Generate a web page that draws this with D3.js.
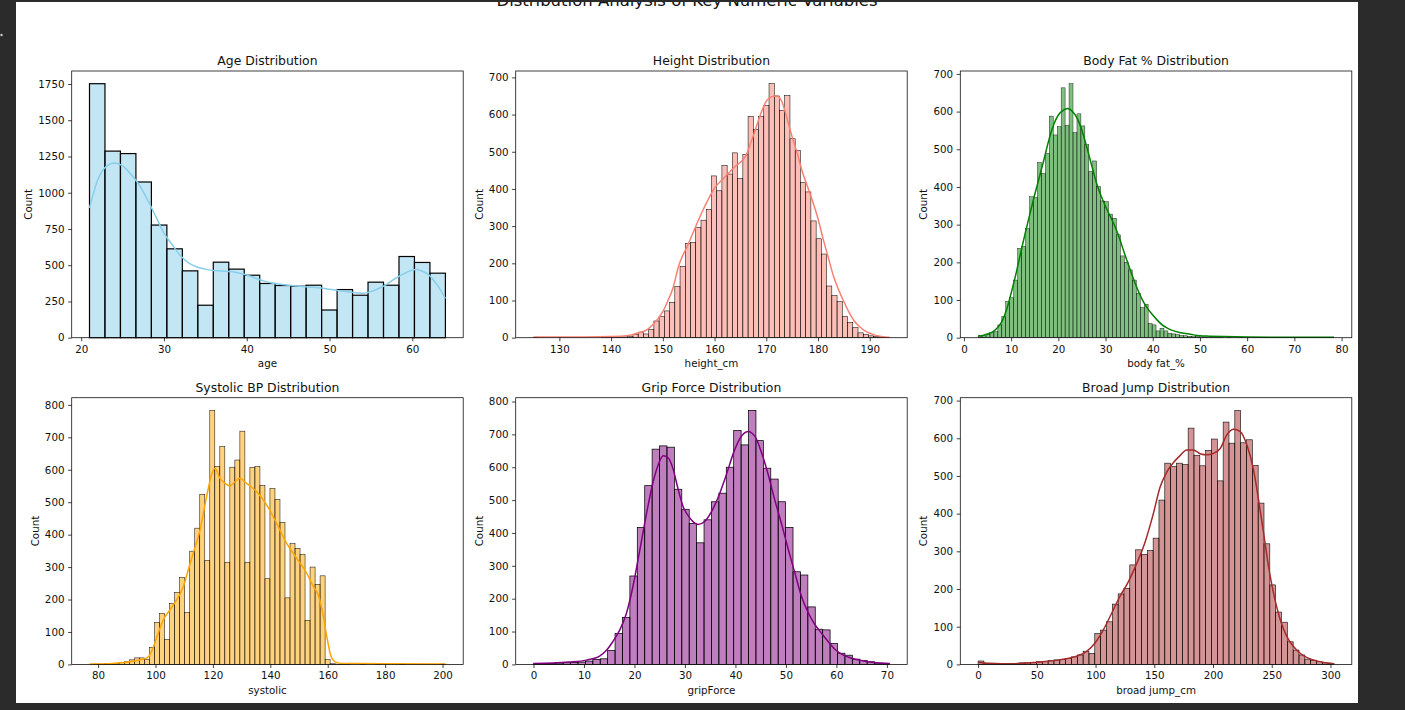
<!DOCTYPE html>
<html>
<head>
<meta charset="utf-8">
<script src="https://cdn.jsdelivr.net/npm/d3@7"></script>
<style>
    html, body { margin: 0; padding: 0; background: #2b2b2b; overflow: hidden; }
    svg { display: block; }
    text { font-family: 'DejaVu Sans', sans-serif; }
</style>
</head>
<body>
<div id="chart"></div>
<script>
// Six seaborn-style histograms (bars + KDE).
// Bin ranges are [min, max]; counts are equal-width bins over that range.

var ageRange = [21, 64];
var ageCounts = [1752, 1287, 1270, 1074, 777, 613, 461, 224, 521, 473, 431, 374,
    360, 355, 362, 191, 332, 293, 383, 362, 560, 519, 445];
var ageKde = [[21, 895], [22, 1090], [23, 1180], [24, 1205], [25, 1185], [26, 1128],
    [27, 1055], [28, 952], [29, 837], [30, 722], [31, 641], [32, 565], [33, 514],
    [34, 488], [35, 473], [36, 463], [37, 460], [38, 456], [39, 447], [40, 433],
    [41, 412], [42, 392], [43, 378], [44, 369], [45, 362], [46, 357], [47, 352],
    [48, 348], [49, 342], [50, 334], [51, 326], [52, 318], [53, 311], [54, 307],
    [55, 318], [56, 341], [57, 372], [58, 410], [59, 442], [60, 466], [60.5, 470],
    [61, 463], [62, 433], [63, 364], [64, 272]];
var ageXTicks = [20, 30, 40, 50, 60];
var ageYTicks = [0, 250, 500, 750, 1000, 1250, 1500, 1750];

var heightRange = [125, 193.8];
var heightCounts = [1, 0, 0, 0, 0, 0, 0, 0, 0, 0, 0, 0, 0, 1,
    1, 1, 1, 2, 3, 8, 15, 10, 22, 45, 57, 72, 95, 138, 192, 253,
    256, 296, 316, 345, 435, 395, 463, 440, 497, 428, 492, 595, 560, 595,
    624, 683, 650, 611, 651, 535, 503, 417, 392, 314, 266, 225, 139, 113,
    97, 57, 41, 27, 13, 9, 5, 3, 2, 1];
var heightKde = [[125, 2], [130, 2], [135, 2], [140, 3], [143, 5], [145, 12], [147, 22],
    [148, 34], [150, 70], [151, 100], [152, 135], [153, 190], [155, 254], [157, 320],
    [158, 350], [160, 402], [162, 432], [164, 461], [166, 488], [167, 524], [168, 564],
    [169, 605], [170, 636], [171, 648], [172, 650], [173, 635], [174, 590], [175, 540],
    [176, 495], [177, 445], [178, 405], [179, 365], [180, 320], [181, 265], [182, 215],
    [183, 165], [184, 128], [185, 97], [186, 68], [187, 45], [188, 30], [189, 19],
    [190, 12], [191, 7], [192, 4], [193, 2], [193.8, 1]];
var heightXTicks = [130, 140, 150, 160, 170, 180, 190];
var heightYTicks = [0, 100, 200, 300, 400, 500, 600, 700];

var bodyFatRange = [3, 78.4];
var bodyFatCounts = [4, 5, 9, 13, 16, 34, 56, 96, 106, 153, 237, 242, 290, 374, 372,
    465, 436, 489, 588, 538, 560, 663, 563, 674, 544, 594, 562, 512, 441, 469,
    401, 363, 361, 328, 317, 273, 217, 200, 180, 153, 118, 80, 89, 38, 34,
    18, 25, 18, 12, 10, 8, 6, 5, 4, 3, 3, 2, 2,
    1, 1, 1, 1, 0, 1, 0, 0, 1,
    0, 0, 0, 0, 0, 0, 0, 0, 0, 0, 0, 0, 0, 0, 0, 0, 0, 0, 0, 0, 0, 0, 1];
var bodyFatKde = [[3, 5], [4, 6], [5, 10], [6, 15], [7, 25], [8, 42], [9, 73], [10, 118],
    [11, 168], [12, 224], [13, 278], [14, 330], [15, 380], [16, 427], [17, 475],
    [18, 525], [19, 565], [20, 591], [21, 603], [22, 608], [23, 600], [24, 582],
    [25, 550], [26, 507], [27, 460], [28, 414], [29, 378], [30, 348], [31, 322],
    [32, 295], [33, 262], [34, 224], [35, 188], [36, 153], [37, 122], [38, 96],
    [39, 76], [40, 60], [41, 46], [42, 34], [43, 26], [44, 20], [46, 13], [48, 9],
    [50, 5], [52, 4], [55, 3], [60, 2], [65, 1.5], [70, 1.5], [78.4, 1.5]];
var bodyFatXTicks = [0, 10, 20, 30, 40, 50, 60, 70, 80];
var bodyFatYTicks = [0, 100, 200, 300, 400, 500, 600, 700];

var systolicRange = [77, 201];
var systolicCounts = [0, 1, 1, 2, 2, 3, 5, 8, 14, 20, 20, 15, 52, 130, 157, 77,
    188, 222, 268, 160, 349, 420, 524, 320, 783, 610, 672, 315, 608, 630, 719,
    315, 607, 610, 552, 264, 542, 509, 438, 205, 372, 358, 339, 136, 300, 247,
    273, 15, 2,
    1, 1, 1, 0, 0, 1, 0, 0, 1, 0, 0, 0, 0, 1, 0, 0, 0, 0, 0, 0, 0, 1];
var systolicKde = [[77, 1], [85, 3], [91, 8], [95, 15], [97, 20], [98.6, 39], [100.3, 80],
    [102.7, 137], [105, 168], [107.3, 198], [109.7, 240], [111.4, 291], [113.1, 342],
    [115.5, 414], [117.8, 517], [119.5, 584], [120.7, 605], [122.4, 574], [124.2, 558],
    [125.9, 550], [127.7, 563], [129.4, 574], [131.7, 558], [135.2, 533], [138.7, 492],
    [142.2, 435], [145.7, 373], [149.2, 327], [152.7, 281], [155, 240], [156.7, 214],
    [158.5, 147], [159.7, 85], [161, 29], [162.6, 8], [165, 3], [180, 2], [201, 1]];
var systolicXTicks = [80, 100, 120, 140, 160, 180, 200];
var systolicYTicks = [0, 100, 200, 300, 400, 500, 600, 700, 800];

var gripRange = [0, 70.5];
var gripCounts = [2, 3, 3, 4, 5, 6, 7, 10, 15, 17, 42, 94, 143, 269, 417, 544,
    655, 665, 661, 533, 472, 429, 370, 440, 495, 521, 600, 712, 668, 773, 681,
    597, 564, 495, 417, 282, 272, 175, 107, 105, 64, 34, 28, 16, 12, 8, 4, 3];
var gripKde = [[0, 3], [3.8, 4], [7.1, 7], [10.5, 13], [13.1, 25], [14.4, 42], [15.7, 69],
    [17.1, 105], [18.4, 155], [19.7, 237], [21, 343], [22.4, 460], [23.7, 556],
    [24.7, 607], [25.7, 635], [26.7, 628], [27.7, 592], [28.6, 536], [29.6, 482],
    [31, 445], [32.6, 426], [33.9, 435], [35.6, 475], [36.9, 521], [38.2, 577],
    [39.6, 643], [40.9, 688], [42.5, 709], [43.9, 693], [45.2, 643], [46.5, 577],
    [47.8, 500], [49.2, 424], [50.5, 348], [51.8, 277], [53.1, 206], [54.5, 155],
    [55.8, 120], [57.1, 94], [58.4, 69], [59.7, 46], [61.4, 28], [62.7, 20],
    [64, 15], [66, 9], [68, 5], [70.5, 3]];
var gripXTicks = [0, 10, 20, 30, 40, 50, 60, 70];
var gripYTicks = [0, 100, 200, 300, 400, 500, 600, 700, 800];

var broadRange = [0, 303];
var broadCounts = [9, 3, 1, 1, 1, 2, 3, 4, 4, 5, 7, 8, 10, 12, 13, 16, 20, 25, 35, 29,
    82, 91, 113, 160, 187, 202, 264, 304, 292, 302, 335, 436, 534, 525, 534, 530,
    627, 555, 527, 568, 598, 487, 643, 587, 674, 588, 596, 528, 428, 320, 211,
    139, 112, 60, 38, 25, 14, 11, 7, 4, 3];
var broadKde = [[0, 6], [10, 3], [20, 2], [30, 2], [41, 4], [55.2, 7], [69.5, 12],
    [83.7, 22], [92.2, 34], [99.4, 56], [106.5, 91], [113.6, 135], [120.7, 180],
    [127.9, 219], [135.1, 268], [142.2, 325], [149.2, 400], [154.9, 470], [160.6, 510],
    [166.2, 535], [171.9, 554], [177.6, 569], [183.3, 569], [189, 559], [194.7, 556],
    [200.4, 560], [206.1, 573], [211.8, 609], [217.5, 624], [223.2, 618], [228.9, 582],
    [234.5, 516], [238.8, 436], [243.1, 348], [247.3, 259], [251.6, 188], [257.3, 118],
    [263, 73], [268.7, 47], [274.4, 29], [280.1, 18], [290, 8], [300, 3], [303, 2]];
var broadXTicks = [0, 50, 100, 150, 200, 250, 300];
var broadYTicks = [0, 100, 200, 300, 400, 500, 600, 700];

var titles = ['Age Distribution', 'Height Distribution', 'Body Fat % Distribution',
    'Systolic BP Distribution', 'Grip Force Distribution', 'Broad Jump Distribution'];
var xLabels = ['age', 'height_cm', 'body fat_%', 'systolic', 'gripForce', 'broad jump_cm'];
var colors = ['#87ceeb', '#fa8072', '#008000', '#ffa500', '#800080', '#a52a2a'];

// Layout (pixels)
var FIG_W = 1405, FIG_H = 710;
var PAGE = { x: 16, y: 2, w: 1342, h: 701 };
var COL_X = [71.7, 515.7, 960.3];
var ROW_Y = [71, 397.7];
var AX_W = 391.5, AX_H = 266.7;
var FONT_TICK = 10.3, FONT_TITLE = 12.4, FONT_SUP = 16.5;
var INK = '#111';

var panels = [
    { range: ageRange, counts: ageCounts, kde: ageKde, xTicks: ageXTicks, yTicks: ageYTicks },
    { range: heightRange, counts: heightCounts, kde: heightKde, xTicks: heightXTicks, yTicks: heightYTicks },
    { range: bodyFatRange, counts: bodyFatCounts, kde: bodyFatKde, xTicks: bodyFatXTicks, yTicks: bodyFatYTicks },
    { range: systolicRange, counts: systolicCounts, kde: systolicKde, xTicks: systolicXTicks, yTicks: systolicYTicks },
    { range: gripRange, counts: gripCounts, kde: gripKde, xTicks: gripXTicks, yTicks: gripYTicks },
    { range: broadRange, counts: broadCounts, kde: broadKde, xTicks: broadXTicks, yTicks: broadYTicks }
];

function styleAxis(ax) {
    ax.selectAll('line').attr('stroke', INK).attr('stroke-width', 0.8);
    ax.selectAll('text')
        .attr('fill', INK)
        .attr('font-size', FONT_TICK)
        .attr('font-family', "'DejaVu Sans', sans-serif");
}

function drawPanel(svg, p, i) {
    var left = COL_X[i % 3], top = ROW_Y[Math.floor(i / 3)];
    var lo = p.range[0], hi = p.range[1], pad = (hi - lo) * 0.05;
    var binW = (hi - lo) / p.counts.length;

    var x = d3.scaleLinear().domain([lo - pad, hi + pad]).range([0, AX_W]);
    var y = d3.scaleLinear().domain([0, d3.max(p.counts) * 1.05]).range([AX_H, 0]);

    var g = svg.append('g')
        .attr('transform', 'translate(' + left + ',' + top + ')');

    // edge width shrinks with bar width, like seaborn does for narrow bins
    var barPx = x(lo + binW) - x(lo);
    var lw = Math.min(1.2, barPx * 0.1);

    g.append('g').attr('class', 'bars')
        .selectAll('rect').data(p.counts).join('rect')
        .attr('x', function (d, k) { return x(lo + k * binW); })
        .attr('y', function (d) { return y(d); })
        .attr('width', barPx)
        .attr('height', function (d) { return AX_H - y(d); })
        .attr('fill', colors[i]).attr('fill-opacity', 0.5)
        .attr('stroke', '#000').attr('stroke-width', lw);

    var line = d3.line()
        .x(function (d) { return x(d[0]); })
        .y(function (d) { return y(d[1]); })
        .curve(d3.curveMonotoneX);

    g.append('path').datum(p.kde)
        .attr('d', line)
        .attr('fill', 'none')
        .attr('stroke', colors[i])
        .attr('stroke-width', 1.5)
        .attr('stroke-linejoin', 'round');

    var xg = g.append('g').attr('transform', 'translate(0,' + AX_H + ')')
        .call(d3.axisBottom(x).tickValues(p.xTicks).tickSize(3.6).tickPadding(4.1)
            .tickFormat(d3.format('d')));
    var yg = g.append('g')
        .call(d3.axisLeft(y).tickValues(p.yTicks).tickSize(3.6).tickPadding(3.6)
            .tickFormat(d3.format('d')));
    xg.select('.domain').remove();
    yg.select('.domain').remove();
    styleAxis(xg);
    styleAxis(yg);

    g.append('rect')
        .attr('x', 0).attr('y', 0)
        .attr('width', AX_W).attr('height', AX_H)
        .attr('fill', 'none')
        .attr('stroke', INK).attr('stroke-width', 0.8);

    g.append('text')
        .attr('x', AX_W / 2).attr('y', -5.8)
        .attr('text-anchor', 'middle')
        .attr('font-size', FONT_TITLE).attr('fill', INK)
        .text(titles[i]);

    g.append('text')
        .attr('x', AX_W / 2).attr('y', AX_H + 29.5)
        .attr('text-anchor', 'middle')
        .attr('font-size', FONT_TICK).attr('fill', INK)
        .text(xLabels[i]);

    // y label sits just left of the widest tick label
    var maxW = 0;
    yg.selectAll('text').each(function () {
        maxW = Math.max(maxW, this.getComputedTextLength());
    });
    var lx = -(3.6 + 3.6 + maxW + 6.3), ly = AX_H / 2;
    g.append('text')
        .attr('x', lx).attr('y', ly)
        .attr('transform', 'rotate(-90,' + lx + ',' + ly + ')')
        .attr('text-anchor', 'middle')
        .attr('font-size', FONT_TICK).attr('fill', INK)
        .text('Count');
}

var svg = d3.select('#chart').append('svg')
    .attr('width', FIG_W).attr('height', FIG_H)
    .attr('viewBox', '0 0 ' + FIG_W + ' ' + FIG_H);

svg.append('rect').attr('width', FIG_W).attr('height', FIG_H).attr('fill', '#2b2b2b');
svg.append('rect')
    .attr('x', PAGE.x).attr('y', PAGE.y)
    .attr('width', PAGE.w).attr('height', PAGE.h)
    .attr('fill', '#ffffff');

// suptitle is cut by the top edge of the screenshot, as in the reference
svg.append('text')
    .attr('x', PAGE.x + PAGE.w / 2).attr('y', 5.5)
    .attr('text-anchor', 'middle')
    .attr('font-size', FONT_SUP).attr('fill', INK)
    .text('Distribution Analysis of Key Numeric Variables');

panels.forEach(function (p, i) { drawPanel(svg, p, i); });

svg.append('rect').attr('x', 0).attr('y', 0).attr('width', FIG_W).attr('height', PAGE.y).attr('fill', '#2b2b2b');
svg.append('circle').attr('cx', 1.5).attr('cy', 35).attr('r', 1.2).attr('fill', '#cfcfcf');
</script>
</body>
</html>
